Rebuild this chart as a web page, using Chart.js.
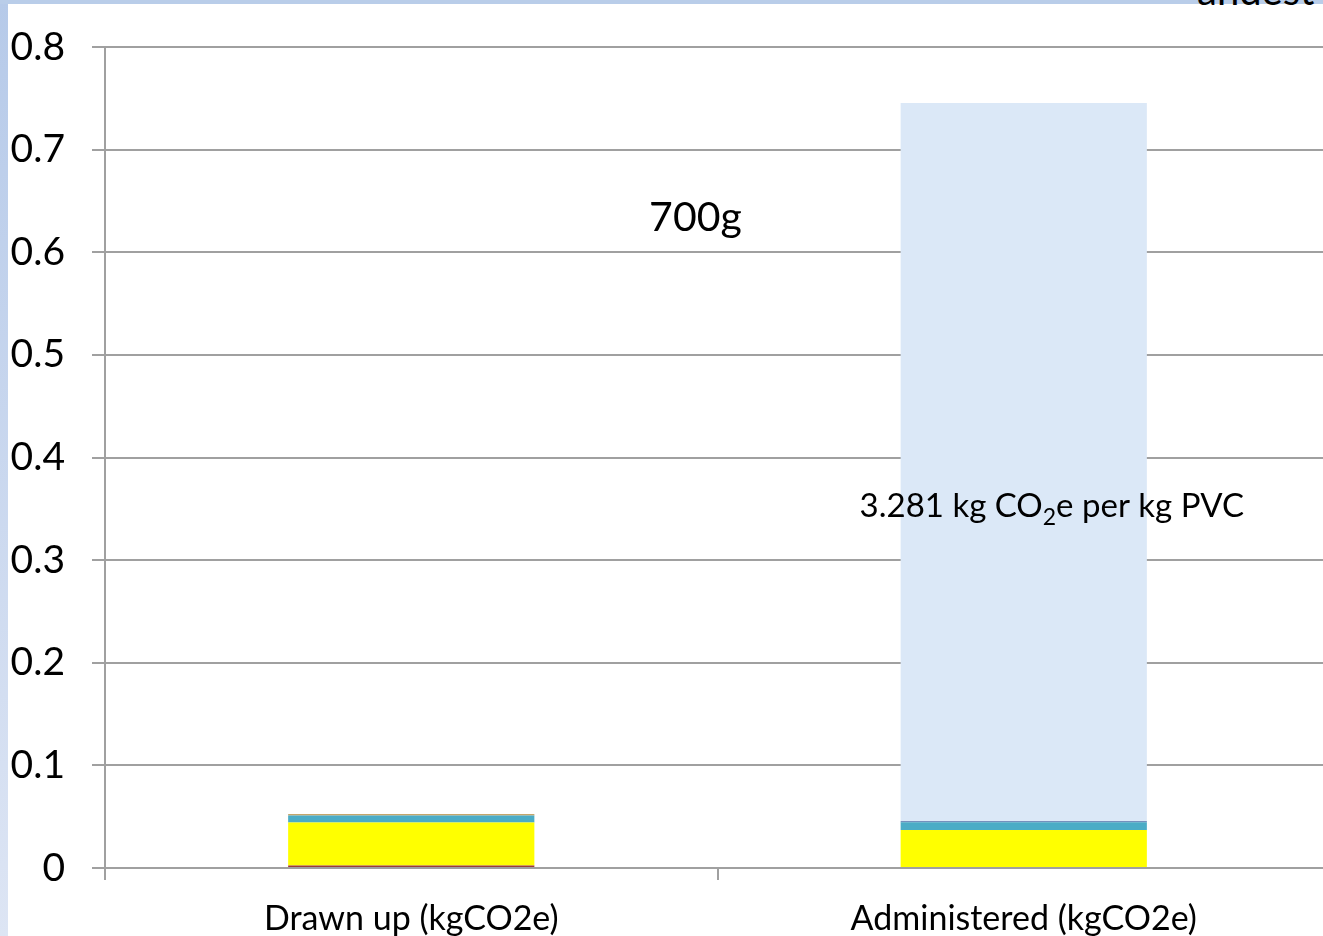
<!DOCTYPE html>
<html>
<head>
<meta charset="utf-8">
<script src="https://cdn.jsdelivr.net/npm/chart.js@4"></script>
<style>
  html, body { margin: 0; padding: 0; background: #fff; overflow: hidden; width: 1323px; height: 936px; }
  #leftStrip { position: absolute; left: 0; top: 0; width: 8px; height: 936px;
    background: linear-gradient(#b6cae9, #dde5f4); }
  #topStrip { position: absolute; left: 0; top: 0; width: 1323px; height: 4px; background: #b9cde9; }
  #cutText { position: absolute; left: 1197px; top: -34px; font-family: Lato, sans-serif; font-size: 40px; color: #000; white-space: nowrap; }
  #wrap { position: absolute; left: 0; top: 0; width: 1330px; height: 936px; }
</style>
</head>
<body>
<div id="leftStrip"></div>
<div id="topStrip"></div>
<div id="cutText">andest</div>
<div id="wrap"><canvas id="chart"></canvas></div>
<script>
document.addEventListener("DOMContentLoaded", function () {
    // categories and stacked parts (kg CO2e), bottom to top
    const categories = ['Drawn up (kgCO2e)', 'Administered (kgCO2e)'];
    const redPart    = [0.0024, 0];
    const yellowPart = [0.042, 0.037];
    const tealPart   = [0.0068, 0.0075];
    const tanPart    = [0.0015, 0];
    const navyPart   = [0, 0.001];
    const pvcPart    = [0, 0.70];
    const yTickLabels = ['0', '0.1', '0.2', '0.3', '0.4', '0.5', '0.6', '0.7', '0.8'];

    const FONT = 'Lato, sans-serif';
    const gridColor = '#a0a0a0';

    // text notes drawn on the chart
    const notes = {
        id: 'notes',
        afterDatasetsDraw(chart) {
            const ctx = chart.ctx;
            const x = chart.scales.x, y = chart.scales.y;
            ctx.save();
            ctx.fillStyle = '#000';
            ctx.textBaseline = 'alphabetic';

            ctx.font = '41px ' + FONT;
            ctx.textAlign = 'center';
            ctx.fillText('700g', x.getPixelForValue(0.464), y.getPixelForValue(0.621));

            // 3.281 kg CO2e per kg PVC, with subscript 2
            ctx.textAlign = 'left';
            let px = x.getPixelForValue(0.732);
            const py = y.getPixelForValue(0.342);
            const parts = [['3.281 kg CO', 33, 0], ['2', 23, 8], ['e per kg PVC', 33, 0]];
            parts.forEach(p => {
                ctx.font = p[1] + 'px ' + FONT;
                ctx.fillText(p[0], px, py + p[2]);
                px += ctx.measureText(p[0]).width;
            });
            ctx.restore();
        }
    };

    new Chart(
        document.getElementById('chart'),
        {
            type: 'bar',
            data: {
                labels: categories,
                datasets: [
                    { label: 'red', data: redPart, backgroundColor: '#9c3b36' },
                    { label: 'yellow', data: yellowPart, backgroundColor: '#ffff00' },
                    { label: 'teal', data: tealPart, backgroundColor: '#4bacc6' },
                    { label: 'tan', data: tanPart, backgroundColor: '#c4a66a' },
                    { label: 'navy', data: navyPart, backgroundColor: '#4a6ea9' },
                    { label: 'PVC', data: pvcPart, backgroundColor: '#dbe8f7' }
                ]
            },
            options: {
                responsive: true,
                maintainAspectRatio: false,
                animation: false,
                layout: { padding: { top: 47, right: 0, left: 0, bottom: 0 } },
                datasets: {
                    bar: { categoryPercentage: 1, barPercentage: 0.402 }
                },
                plugins: {
                    legend: { display: false },
                    tooltip: { enabled: false }
                },
                scales: {
                    x: {
                        stacked: true,
                        afterFit: s => { s.height = 68; s.paddingLeft = 0; s.paddingRight = 0; },
                        grid: { offset: true, drawOnChartArea: false, color: gridColor, lineWidth: 2, tickLength: 12 },
                        border: { color: gridColor, width: 2 },
                        ticks: { color: '#000', font: { family: FONT, size: 34 }, padding: 19, maxRotation: 0 }
                    },
                    y: {
                        stacked: true,
                        min: 0,
                        max: 0.8,
                        afterFit: s => { s.width = 105; s.paddingTop = 0; s.paddingBottom = 0; },
                        grid: { color: gridColor, lineWidth: 2, tickLength: 13 },
                        border: { color: gridColor, width: 2 },
                        ticks: {
                            stepSize: 0.1,
                            color: '#000',
                            padding: 27,
                            font: { family: FONT, size: 39 },
                            callback: (value, i) => yTickLabels[i]
                        }
                    }
                }
            },
            plugins: [notes]
        }
    );
});
</script>
</body>
</html>
